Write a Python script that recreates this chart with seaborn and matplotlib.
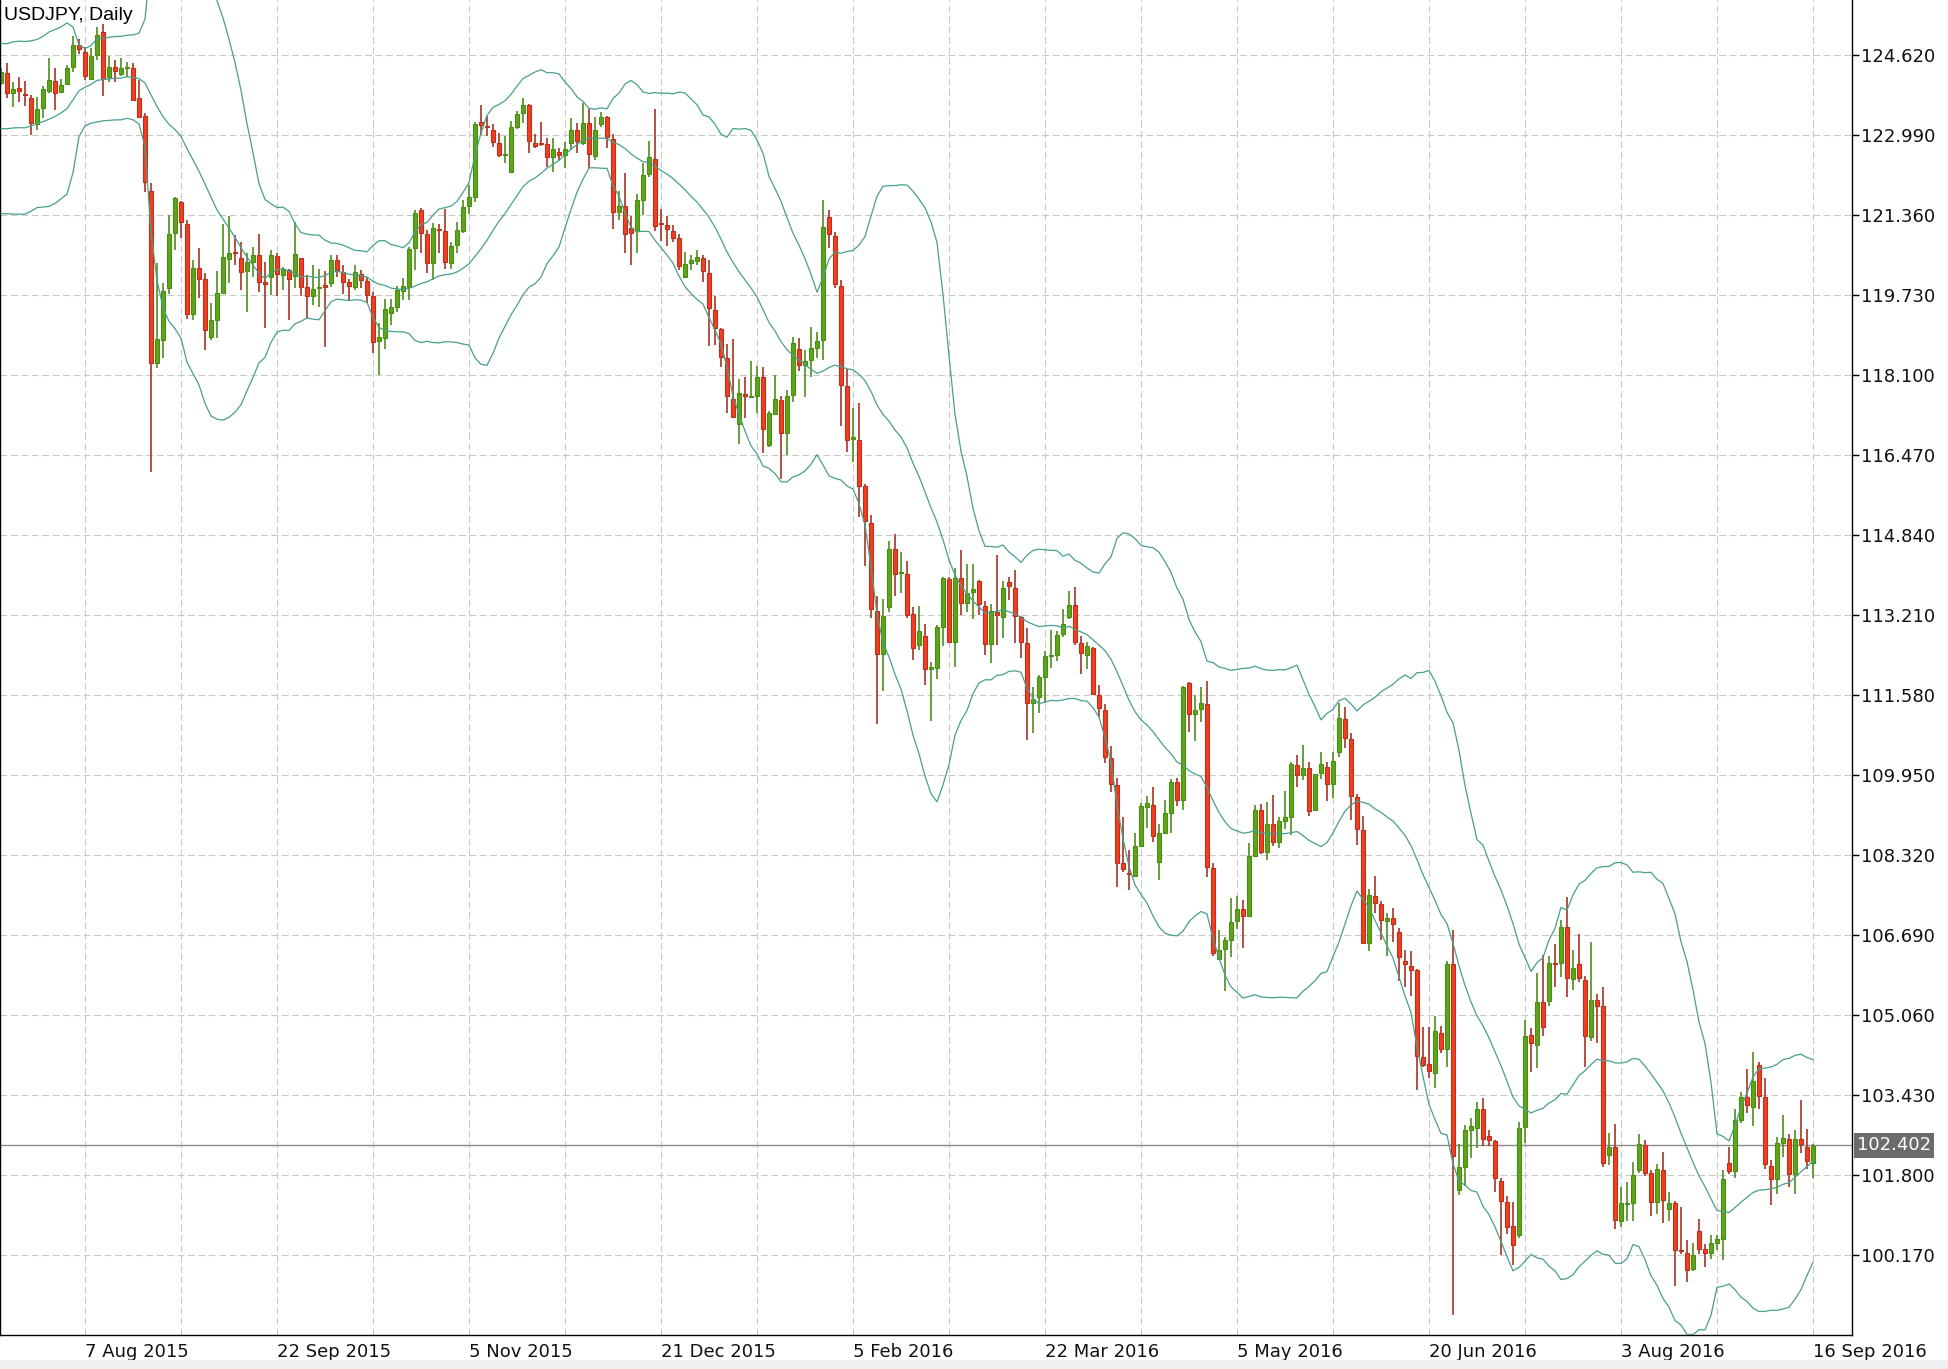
import numpy as np
import pandas as pd
import matplotlib
matplotlib.use('Agg')
import matplotlib.pyplot as plt
import seaborn as sns
from matplotlib.patches import Rectangle

symbol = 'USDJPY, Daily'
start_date, end_date = '2015-07-20', '2016-09-16'
holidays = ['2015-12-25', '2016-01-01']
tick_dates = ['2015-08-07', '2015-09-22', '2015-11-05', '2015-12-21', '2016-02-05',
              '2016-03-22', '2016-05-05', '2016-06-20', '2016-08-03', '2016-09-16']
price_ticks = [100.170, 101.800, 103.430, 105.060, 106.690, 108.320, 109.950, 111.580,
               113.210, 114.840, 116.470, 118.100, 119.730, 121.360, 122.990, 124.620]
last_price = 102.402
bb_period, bb_dev = 20, 2

# closes before the first visible bar (needed for the bands)
warmup_close = [123.91, 123.62, 123.76, 123.87, 122.52, 122.49, 123.19, 123.08, 122.76, 122.56,
                122.54, 121.24, 121.06, 122.78, 123.42, 123.38, 123.85, 124.07, 124.04]

opens = [
    124.04, 124.25, 123.85, 123.94, 123.83, 123.74, 123.21, 123.55, 123.89, 124.10,
    123.87, 124.03, 124.37, 124.82, 124.69, 124.14, 124.62, 125.08, 124.18, 124.38,
    124.23, 124.36, 124.35, 123.74, 123.38, 121.84, 118.35, 118.81, 119.87, 120.99,
    121.63, 121.18, 119.34, 120.29, 120.05, 118.88, 119.23, 119.78, 120.46, 120.60,
    120.48, 120.21, 120.41, 120.54, 119.97, 120.10, 120.52, 120.13, 120.24, 120.12,
    120.48, 119.89, 119.72, 119.87, 119.91, 119.98, 120.44, 120.20, 119.99, 119.90,
    120.16, 120.02, 119.71, 118.80, 118.85, 119.37, 119.48, 119.82, 119.90, 120.68,
    121.46, 120.97, 120.39, 121.08, 121.03, 120.39, 120.74, 121.03, 121.55, 121.73,
    123.25, 123.17, 123.10, 122.82, 122.58, 122.24, 123.16, 123.43, 123.61, 122.82,
    122.83, 122.80, 122.55, 122.64, 122.58, 122.82, 123.09, 122.82, 123.24, 122.56,
    123.21, 123.36, 122.90, 121.43, 121.54, 121.09, 121.03, 121.67, 122.19, 122.51,
    121.19, 121.16, 121.03, 120.89, 120.10, 120.39, 120.43, 120.48, 120.17, 119.42,
    119.03, 118.44, 117.62, 117.10, 117.71, 117.65, 117.68, 118.05, 116.67, 117.31,
    117.60, 116.92, 117.70, 118.64, 118.30, 118.41, 118.65, 118.81, 121.31, 120.94,
    119.92, 117.87, 116.80, 116.78, 115.83, 115.09, 113.30, 112.42, 113.37, 114.56,
    114.07, 114.05, 113.24, 112.59, 112.79, 112.10, 112.14, 112.96, 113.94, 112.67,
    113.96, 113.46, 113.67, 113.90, 113.39, 112.61, 113.28, 113.16, 113.89, 113.77,
    113.16, 112.63, 111.41, 111.53, 111.95, 112.38, 112.39, 112.82, 113.16, 113.41,
    112.63, 112.39, 112.54, 111.58, 111.27, 110.30, 109.75, 108.15, 107.96, 107.89,
    108.50, 109.30, 109.34, 108.18, 108.77, 109.18, 109.80, 109.44, 111.83, 111.19,
    111.29, 111.39, 108.05, 106.21, 106.40, 106.59, 106.97, 107.21, 107.08, 108.30,
    109.24, 108.39, 108.96, 108.59, 109.02, 109.10, 110.15, 109.95, 110.09, 109.23,
    109.99, 110.11, 109.76, 110.42, 111.10, 110.68, 109.50, 108.82, 106.53, 107.49,
    107.33, 106.98, 107.04, 106.76, 106.17, 106.06, 105.97, 104.21, 104.07, 103.88,
    104.70, 104.37, 106.09, 101.49, 101.97, 102.72, 102.76, 103.15, 102.60, 102.49,
    101.67, 101.26, 100.77, 100.58, 102.78, 104.66, 104.44, 105.32, 105.34, 106.12,
    106.12, 106.85, 105.79, 106.10, 105.78, 104.61, 105.37, 105.24, 102.21, 102.38,
    100.86, 101.20, 101.22, 101.91, 102.42, 101.84, 101.26, 101.91, 101.11, 101.23,
    100.27, 100.22, 99.88, 100.66, 100.29, 100.22, 100.42, 100.49, 102.04, 101.89,
    102.93, 103.38, 103.18, 104.04, 103.38, 101.98, 101.71, 102.46, 102.53, 101.83,
    102.53, 102.38, 102.05]

highs = [
    124.35, 124.45, 124.08, 124.17, 124.10, 123.81, 123.77, 123.98, 124.55, 124.35,
    124.14, 124.42, 125.01, 124.94, 124.78, 124.76, 125.20, 125.25, 124.60, 124.52,
    124.55, 124.48, 124.45, 124.11, 123.43, 122.02, 120.38, 119.98, 121.36, 121.73,
    121.64, 121.26, 120.44, 120.68, 120.17, 119.56, 120.22, 121.17, 121.33, 120.95,
    120.82, 120.58, 120.71, 120.97, 120.41, 120.65, 120.59, 120.31, 120.27, 121.21,
    120.49, 120.14, 120.34, 120.25, 120.21, 120.55, 120.55, 120.34, 120.06, 120.34,
    120.24, 120.09, 119.80, 119.15, 119.64, 119.64, 119.91, 120.07, 120.71, 121.46,
    121.50, 121.05, 121.20, 121.17, 121.48, 120.80, 121.22, 121.66, 121.97, 123.26,
    123.61, 123.38, 123.21, 123.04, 122.97, 123.27, 123.47, 123.74, 123.63, 123.02,
    123.25, 122.92, 122.92, 122.72, 122.85, 123.33, 123.24, 123.65, 123.51, 123.35,
    123.45, 123.38, 123.02, 121.84, 122.21, 121.34, 121.79, 122.41, 122.87, 123.53,
    121.48, 121.33, 121.16, 120.97, 120.60, 120.55, 120.65, 120.55, 120.44, 119.70,
    119.05, 118.73, 118.83, 118.01, 118.05, 118.38, 118.29, 118.27, 117.36, 118.10,
    117.68, 117.79, 118.88, 118.85, 118.61, 119.07, 118.97, 121.67, 121.47, 121.01,
    120.04, 118.23, 117.43, 117.52, 115.87, 115.25, 113.59, 113.54, 114.72, 114.87,
    114.50, 114.32, 113.37, 113.39, 113.03, 112.26, 113.01, 113.99, 113.98, 114.16,
    114.53, 114.25, 114.25, 113.92, 113.49, 113.43, 114.43, 113.91, 113.99, 114.13,
    113.19, 112.94, 111.75, 111.99, 112.48, 112.90, 112.89, 113.33, 113.69, 113.79,
    112.78, 112.65, 112.56, 111.78, 111.40, 110.55, 109.88, 109.09, 108.42, 108.76,
    109.37, 109.52, 109.70, 108.96, 109.45, 109.86, 109.88, 111.76, 111.85, 111.58,
    111.74, 111.87, 108.16, 106.79, 106.64, 107.44, 107.48, 107.40, 108.57, 109.34,
    109.36, 109.39, 109.54, 109.09, 109.63, 110.22, 110.36, 110.56, 110.21, 109.98,
    110.42, 110.21, 110.42, 111.42, 111.34, 110.81, 109.56, 109.11, 107.63, 107.89,
    107.39, 107.14, 107.24, 106.83, 106.39, 106.36, 105.99, 104.81, 104.81, 105.03,
    104.83, 106.16, 106.80, 102.43, 102.82, 102.96, 103.29, 103.36, 102.72, 102.52,
    101.74, 101.38, 101.26, 102.87, 104.96, 104.80, 105.92, 106.29, 106.26, 106.51,
    107.00, 107.46, 106.39, 106.72, 105.86, 106.54, 105.49, 105.64, 102.66, 102.83,
    101.56, 101.65, 102.06, 102.64, 102.52, 101.91, 102.03, 102.26, 101.45, 101.28,
    101.14, 100.48, 100.42, 100.90, 100.39, 100.58, 100.58, 101.90, 102.38, 103.14,
    103.50, 103.97, 104.30, 104.11, 103.77, 102.11, 102.57, 103.02, 102.64, 102.72,
    103.33, 102.73, 102.43]

lows = [
    124.01, 123.74, 123.57, 123.67, 123.58, 122.99, 123.09, 123.33, 123.84, 123.50,
    123.84, 124.00, 124.28, 124.65, 124.11, 124.11, 124.52, 123.79, 124.08, 124.08,
    124.19, 124.18, 123.68, 123.33, 121.82, 116.13, 118.24, 118.44, 119.76, 120.65,
    120.89, 119.25, 119.22, 119.66, 118.61, 118.81, 118.85, 119.76, 119.97, 120.34,
    119.83, 119.39, 120.10, 119.80, 119.05, 119.73, 119.70, 119.83, 119.23, 119.87,
    119.70, 119.25, 119.53, 119.49, 118.68, 119.90, 120.10, 119.75, 119.63, 119.83,
    119.87, 119.56, 118.55, 118.10, 118.64, 119.12, 119.39, 119.63, 119.63, 120.24,
    120.59, 120.17, 120.04, 120.58, 120.27, 120.25, 120.59, 121.00, 121.39, 121.63,
    122.99, 122.98, 122.74, 122.55, 122.43, 122.22, 123.11, 123.23, 122.62, 122.72,
    122.77, 122.33, 122.24, 122.49, 122.31, 122.68, 122.63, 122.79, 122.31, 122.48,
    123.15, 122.72, 121.07, 121.25, 120.58, 120.34, 120.58, 121.36, 122.13, 121.04,
    120.84, 120.72, 120.80, 120.24, 120.10, 120.24, 120.34, 120.00, 118.69, 118.71,
    118.26, 117.32, 117.22, 116.69, 117.22, 117.63, 117.32, 116.52, 116.64, 117.28,
    115.99, 116.47, 117.56, 118.19, 117.66, 118.05, 118.44, 118.41, 120.69, 119.87,
    117.07, 116.54, 116.32, 115.21, 114.21, 113.14, 110.99, 111.67, 113.28, 113.59,
    113.65, 113.15, 112.30, 112.50, 111.79, 111.05, 111.90, 112.57, 112.65, 112.16,
    113.21, 113.28, 113.12, 113.21, 112.40, 112.23, 112.60, 112.75, 113.52, 112.63,
    112.33, 110.66, 110.81, 111.21, 111.41, 112.14, 112.28, 112.77, 113.12, 112.60,
    112.01, 112.10, 111.58, 111.14, 110.20, 109.60, 107.66, 107.98, 107.61, 107.87,
    108.49, 108.88, 108.59, 107.82, 108.75, 108.76, 109.31, 109.24, 110.83, 110.65,
    111.02, 107.87, 106.26, 106.19, 105.54, 106.24, 106.81, 106.42, 107.06, 108.27,
    108.34, 108.22, 108.50, 108.46, 108.84, 108.73, 109.70, 109.85, 109.11, 109.21,
    109.86, 109.42, 109.48, 110.32, 110.50, 109.04, 108.52, 106.50, 106.36, 107.14,
    106.58, 106.26, 106.55, 105.75, 105.63, 105.44, 103.54, 104.01, 103.77, 103.58,
    104.29, 104.01, 98.95, 101.39, 101.57, 102.15, 102.35, 102.39, 102.40, 101.45,
    100.18, 100.60, 99.97, 100.52, 102.45, 103.89, 103.98, 104.63, 105.25, 105.64,
    105.83, 105.43, 105.56, 105.73, 104.00, 104.54, 104.49, 101.96, 102.01, 100.69,
    100.74, 100.86, 100.86, 101.85, 101.77, 100.97, 101.01, 100.82, 100.86, 99.53,
    100.20, 99.63, 99.85, 100.20, 99.93, 100.08, 100.27, 100.07, 101.82, 101.73,
    102.85, 103.06, 102.79, 103.14, 101.92, 101.19, 101.41, 102.16, 101.55, 101.41,
    102.24, 101.92, 101.73]

closes = [
    124.28, 123.85, 123.93, 123.88, 123.81, 123.24, 123.53, 123.92, 124.12, 123.85,
    124.00, 124.35, 124.82, 124.74, 124.19, 124.59, 125.03, 124.14, 124.37, 124.30,
    124.35, 124.38, 123.70, 123.36, 122.04, 118.34, 118.83, 119.81, 120.97, 121.71,
    121.21, 119.34, 120.29, 120.05, 119.02, 119.23, 119.78, 120.50, 120.59, 120.58,
    120.19, 120.41, 120.54, 120.00, 119.96, 120.54, 120.16, 120.26, 120.05, 120.57,
    119.90, 119.72, 119.85, 119.89, 119.90, 120.44, 120.23, 120.00, 119.92, 120.20,
    120.04, 119.73, 118.78, 118.88, 119.44, 119.48, 119.83, 119.91, 120.66, 121.41,
    120.99, 120.39, 121.09, 121.05, 120.41, 120.73, 121.05, 121.52, 121.72, 123.21,
    123.19, 123.15, 122.85, 122.58, 122.59, 123.15, 123.42, 123.60, 122.87, 122.77,
    122.81, 122.54, 122.70, 122.58, 122.70, 123.09, 122.87, 123.24, 122.60, 123.09,
    123.35, 122.94, 121.43, 121.55, 120.97, 121.00, 121.67, 122.18, 122.54, 121.14,
    121.17, 121.07, 120.90, 120.32, 120.36, 120.44, 120.51, 120.21, 119.46, 119.05,
    118.46, 117.67, 117.24, 117.73, 117.67, 117.66, 118.05, 117.01, 117.32, 117.62,
    116.92, 117.68, 118.76, 118.30, 118.39, 118.65, 118.80, 121.12, 120.98, 119.96,
    117.90, 116.78, 116.83, 115.84, 115.12, 113.34, 112.42, 113.19, 114.56, 114.05,
    114.08, 113.22, 112.54, 112.89, 112.10, 112.15, 112.96, 113.96, 112.67, 113.96,
    113.46, 113.65, 113.75, 113.43, 112.61, 113.29, 113.21, 113.77, 113.80, 113.19,
    112.67, 111.41, 111.49, 111.95, 112.37, 112.39, 112.80, 113.02, 113.41, 112.67,
    112.43, 112.57, 111.60, 111.31, 110.32, 109.76, 108.16, 108.03, 107.93, 108.50,
    109.32, 109.37, 108.71, 108.77, 109.17, 109.80, 109.45, 111.74, 111.19, 111.27,
    111.41, 108.08, 106.33, 106.38, 106.59, 106.96, 107.23, 107.08, 108.30, 109.24,
    108.39, 108.96, 108.59, 109.02, 109.10, 110.17, 109.95, 110.09, 109.21, 109.97,
    110.17, 109.76, 110.24, 111.11, 110.70, 109.53, 108.86, 106.53, 107.51, 107.35,
    106.99, 107.04, 106.91, 106.24, 106.09, 105.97, 104.23, 104.05, 103.91, 104.73,
    104.37, 106.09, 102.19, 101.97, 102.72, 102.80, 103.15, 102.54, 102.51, 101.74,
    101.28, 100.74, 100.38, 102.76, 104.64, 104.49, 105.32, 104.81, 106.12, 106.09,
    106.85, 105.81, 106.02, 105.81, 104.63, 105.37, 105.25, 102.04, 102.38, 100.89,
    101.22, 101.22, 101.79, 102.44, 101.85, 101.26, 101.92, 101.30, 101.23, 100.28,
    100.25, 99.87, 100.18, 100.29, 100.22, 100.41, 100.49, 101.71, 101.89, 102.93,
    103.38, 103.23, 103.72, 103.41, 102.02, 101.71, 102.46, 102.55, 101.82, 102.53,
    102.43, 102.09, 102.40]

# ---- frame ----
dates = pd.bdate_range(start_date, end_date)
dates = dates[~dates.isin(pd.to_datetime(holidays))]
df = pd.DataFrame({'date': dates, 'open': opens, 'high': highs, 'low': lows, 'close': closes})
df['bar'] = np.arange(len(df))
df['up'] = df['close'] >= df['open']

all_close = pd.Series(warmup_close + closes)
mid = all_close.rolling(bb_period).mean()
sd = all_close.rolling(bb_period).std(ddof=0)
n0 = len(warmup_close)
bands = pd.DataFrame({
    'bar': df['bar'].values,
    'mid': mid.values[n0:],
    'upper': (mid + bb_dev * sd).values[n0:],
    'lower': (mid - bb_dev * sd).values[n0:],
})

# ---- style ----
sns.set_style('white')
plt.rcParams['font.family'] = ['DejaVu Sans']
plt.rcParams['lines.scale_dashes'] = False

W, H = 1949, 1369
fig = plt.figure(figsize=(W / 100, H / 100), dpi=100)
fig.patch.set_facecolor('white')
fig.patches.append(Rectangle((0, 0), 1, 9 / H, transform=fig.transFigure,
                             facecolor='#efefef', edgecolor='none', zorder=0))
ax = fig.add_axes([0, 34 / H, 1852 / W, 1335 / H])

GREEN, GREEN_EDGE, GREEN_WICK = '#5ea51a', '#4a8d14', '#4f8c1c'
RED, RED_EDGE, RED_WICK = '#f43e1f', '#b8301e', '#a63522'
BAND = '#47a08a'
GRID = dict(color='#c9c9c9', lw=0.8, linestyle=(0, (5, 2.5)))

# x ticks (dates) - every other grid line carries a label
tick_idx = [int(np.where(df['date'] == pd.Timestamp(d))[0][0]) for d in tick_dates]
tick_lbl = [f"{pd.Timestamp(d).day} {pd.Timestamp(d).strftime('%b %Y')}" for d in tick_dates]
ax.set_xticks(tick_idx)
ax.set_xticklabels(tick_lbl, ha='left')
ax.set_xticks(np.arange(tick_idx[0] + 16, len(df), 32), minor=True)

# grid
ax.grid(True, which='both', axis='x', zorder=0, **GRID)
ax.grid(True, which='major', axis='y', zorder=0, **GRID)

# current price line
ax.axhline(last_price, color='#8a8a8a', lw=1.0, zorder=1.2)

# wicks
ax.vlines(df['bar'], df['low'], df['high'],
          colors=np.where(df['up'], GREEN_WICK, RED_WICK), lw=1.2, zorder=1.5)

# bodies
body_lo = np.minimum(df['open'], df['close'])
body_h = np.maximum((df['close'] - df['open']).abs(), 0.025)
ax.bar(df['bar'], body_h, bottom=body_lo, width=0.76,
       color=np.where(df['up'], GREEN, RED),
       edgecolor=np.where(df['up'], GREEN_EDGE, RED_EDGE), linewidth=0.8, zorder=2)

# bollinger bands
for col in ['upper', 'mid', 'lower']:
    sns.lineplot(data=bands, x='bar', y=col, ax=ax, color=BAND, lw=0.9,
                 estimator=None, zorder=3)

ax.set_xlim(-0.17, 308.5)
ax.set_ylim(98.54, 125.741)
ax.set_xlabel('')
ax.set_ylabel('')

ax.tick_params(axis='x', which='major', direction='out', length=5, width=1,
               color='black', pad=0.5, labelsize=13, labelcolor='#111111')
ax.tick_params(axis='x', which='minor', length=0)

# y ticks on the right
ax.yaxis.tick_right()
ax.set_yticks(price_ticks)
ax.set_yticklabels([f'{p:.3f}' for p in price_ticks])
ax.tick_params(axis='y', direction='out', length=5, width=1, color='black',
               pad=1.5, labelsize=13, labelcolor='#111111')

for side in ['left', 'bottom', 'right']:
    ax.spines[side].set_visible(True)
    ax.spines[side].set_color('black')
    ax.spines[side].set_linewidth(1.0)
ax.spines['top'].set_visible(False)

# last price tag
ax.annotate(f'{last_price:.3f}', xy=(1, last_price), xycoords=('axes fraction', 'data'),
            xytext=(5, 0), textcoords='offset pixels', ha='left', va='center',
            color='white', fontsize=13, annotation_clip=False, zorder=5,
            bbox=dict(boxstyle='square,pad=0.18', fc='#6b6b6b', ec='none'))

# title
ax.text(4 / 1852, 1 - 7 / 1335, symbol, transform=ax.transAxes, ha='left', va='top',
        fontsize=14, family=['Liberation Sans', 'DejaVu Sans'], color='black', zorder=6)

fig.savefig('out.png', dpi=100)
